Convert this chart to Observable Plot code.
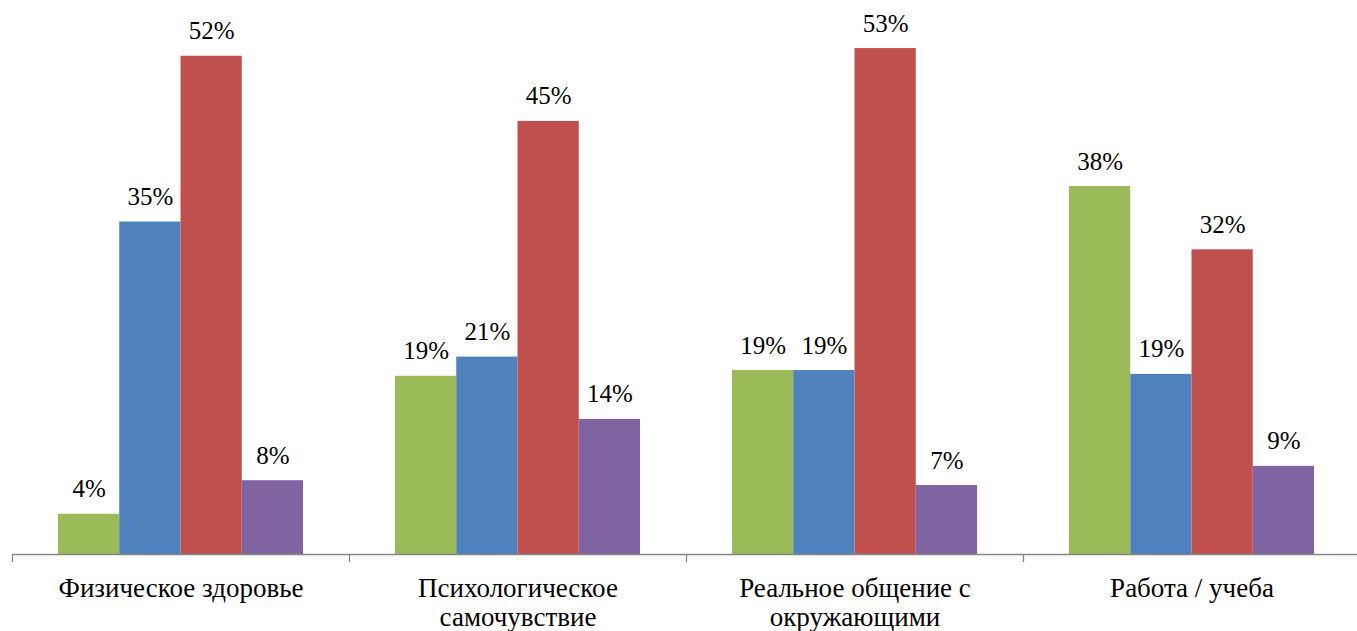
<!DOCTYPE html>
<html>
<head>
<meta charset="utf-8">
<script src="https://cdn.jsdelivr.net/npm/d3@7"></script>
<script src="https://cdn.jsdelivr.net/npm/@observablehq/plot@0.6"></script>
<style>
  html, body { margin: 0; padding: 0; background: #fff; }
  svg { display: block; }
</style>
</head>
<body>
<div id="chart"></div>
<script>
// Categories (groups on x)
const categories = [
  "Физическое здоровье",
  "Психологическое\nсамочувствие",
  "Реальное общение с\nокружающими",
  "Работа / учеба"
];
// Series (4 bars per group), colours
const series = ["Серия 1", "Серия 2", "Серия 3", "Серия 4"];
const seriesColors = ["#9BBB59", "#4F81BD", "#C0504D", "#8064A2"];
// Values in percent
const series1 = [4.2, 18.6, 19.2, 38.4];
const series2 = [34.7, 20.6, 19.2, 18.8];
const series3 = [52.0, 45.2, 52.8, 31.8];
const series4 = [7.7, 14.1, 7.2, 9.2];
const seriesValues = [series1, series2, series3, series4];

// Long table built from the arrays
const GAP = 1.5; // Excel gap width 150% of bar width
const slots = series.length + GAP;
const data = [];
categories.forEach((c, g) => {
  series.forEach((s, i) => {
    const x1 = g + (GAP / 2 + i) / slots;
    data.push({category: c, series: s, g, i, x1, x2: x1 + 1 / slots, value: seriesValues[i][g]});
  });
});

const font = "Liberation Serif";

const chart = Plot.plot({
  width: 1357,
  height: 631,
  marginTop: 27,
  marginBottom: 77,
  marginLeft: 12,
  marginRight: 0,
  style: {fontFamily: font, background: "#fff"},
  x: {domain: [0, categories.length], range: [12, 1360]},
  y: {domain: [0, 55], axis: null},
  color: {domain: series, range: seriesColors},
  marks: [
    Plot.rectY(data, {x1: "x1", x2: "x2", y1: 0, y2: "value", fill: "series"}),
    Plot.text(data, {
      x: d => (d.x1 + d.x2) / 2,
      y: "value",
      text: d => Math.round(d.value) + "%",
      lineAnchor: "bottom",
      dy: -17,
      fontSize: 25,
      fontFamily: font,
      fill: "#000"
    }),
    Plot.ruleY([0], {stroke: "#868686", strokeWidth: 1.3}),
    Plot.axisX({
      ticks: d3.range(categories.length + 1),
      tickSize: 8,
      tickFormat: () => "",
      stroke: "#868686",
      strokeWidth: 1.3
    }),
    Plot.axisX({
      ticks: categories.map((c, g) => g + 0.5),
      tickSize: 0,
      tickPadding: 21,
      tickFormat: t => categories[Math.floor(t)],
      fontSize: 27,
      fontFamily: font,
      fill: "#000",
      lineHeight: 1.1
    })
  ]
});

document.getElementById("chart").appendChild(chart);
</script>
</body>
</html>
